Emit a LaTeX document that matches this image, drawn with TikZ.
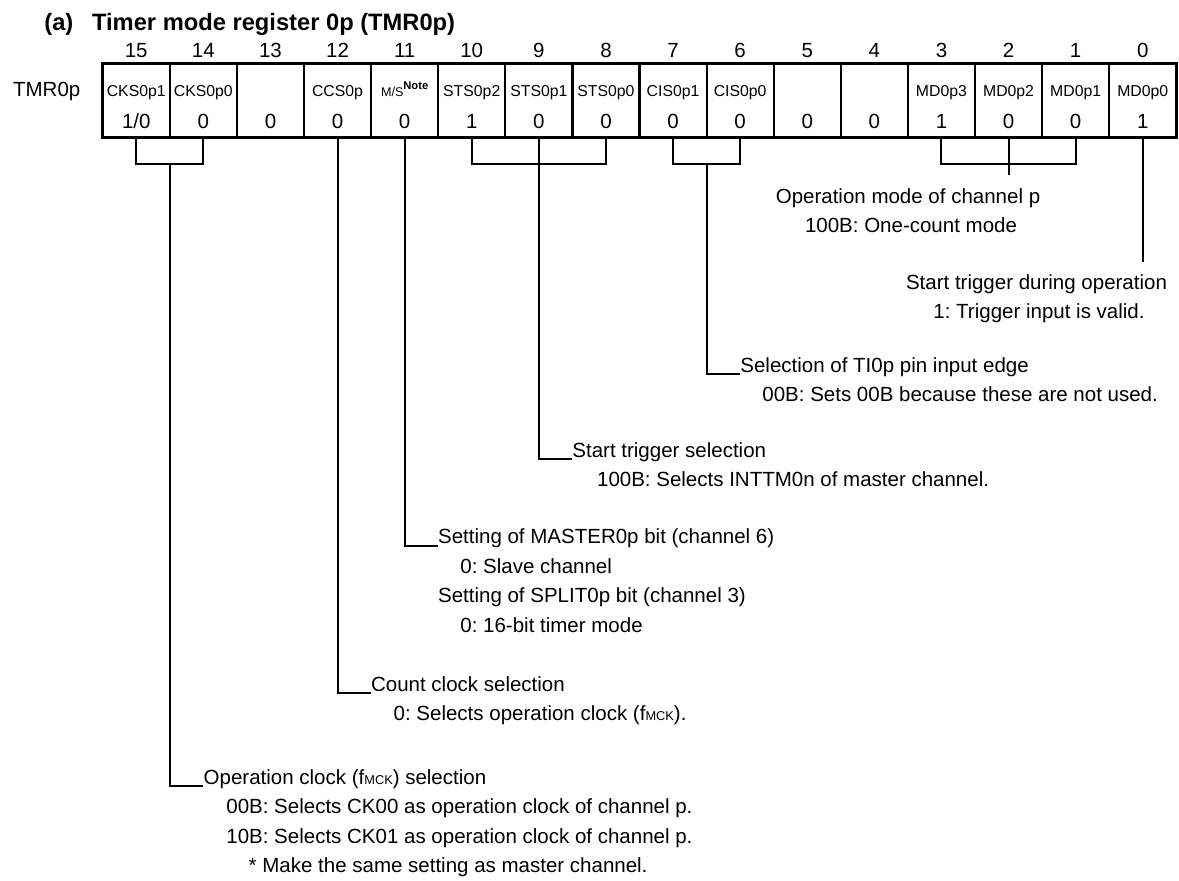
\documentclass[tikz,border=0pt]{standalone}
\usepackage{fontspec}
\setmainfont{Liberation Sans}
\usetikzlibrary{positioning,calc}
\frenchspacing
\newcommand{\msnote}{{\fontsize{6.3}{7}\selectfont M/S}\raisebox{0.45em}{\fontsize{5.6}{6}\selectfont\bfseries Note}}
\newcommand{\fmck}{f{\fontsize{6.4}{7}\selectfont MCK}}

\begin{document}
\begin{tikzpicture}[
  x=0.5pt, y=-0.5pt,
  cell/.style={draw, line width=1.1pt, minimum width=33.55pt,
    minimum height=37.2pt, inner sep=0, outer sep=0, anchor=north west},
  bitno/.style={font=\fontsize{10.25}{12}\selectfont, inner sep=0, anchor=base},
  fld/.style={font=\fontsize{7.9}{9}\selectfont, inner sep=0, anchor=base},
  txt/.style={font=\fontsize{10.25}{12}\selectfont, inner sep=0,
    anchor=base west},
  ctxt/.style={txt, anchor=base},
  wire/.style={line width=1pt}
]
\useasboundingbox (0,0) rectangle (1179,880);

% Title and register name
\node[anchor=base west, inner sep=0,
  font=\fontsize{11.85}{14}\selectfont\bfseries] (tag) at (44,30) {(a)};
\node[anchor=base west, inner sep=0,
  font=\fontsize{11.85}{14}\selectfont\bfseries] (ttl) at (91.7,30)
  {Timer mode register 0p (TMR0p)};
\node[txt] (reg) at (12.7,96.7) {TMR0p};

% Register cells
\foreach \b/\nm/\val [count=\i from 0] in {15/CKS0p1/{1/0}, 14/CKS0p0/0,
    13/{}/0, 12/CCS0p/0, 11/\msnote/0, 10/STS0p2/1, 9/STS0p1/0,
    8/STS0p0/0, 7/CIS0p1/0, 6/CIS0p0/0, 5/{}/0, 4/{}/0, 3/MD0p3/1,
    2/MD0p2/0, 1/MD0p1/0, 0/MD0p0/1} {
  \node[cell] (c\b) at ({102.7+\i*67.1},63.3) {};
  \node[bitno] at (c\b.north |- 0,57.5) {\b};
  \node[fld] at (c\b.north |- 0,96.4) {\nm};
  \node[bitno] at (c\b.north |- 0,128) {\val};
}
\draw[line width=1.4pt] (c15.north west) rectangle (c0.south east);

% Descriptions
\node[ctxt] (opmode) at (908,203) {Operation mode of channel p};
\node[ctxt] (opmodev) at (911,232.5) {100B: One-count mode};
\node[ctxt] (trgop) at (1036.5,289) {Start trigger during operation};
\node[ctxt] (trgopv) at (1039,318.5) {1: Trigger input is valid.};
\node[txt] (edge) at (740,372) {Selection of TI0p pin input edge};
\node[txt] (edgev) at (762,401.5) {00B: Sets 00B because these are not used.};
\node[txt] (stsel) at (572,457) {Start trigger selection};
\node[txt] (stselv) at (596.7,486.5) {100B: Selects INTTM0n of master channel.};
\node[txt] (mst) at (437.7,543.5) {Setting of MASTER0p bit (channel 6)};
\node[txt] (mstv) at (460,573) {0: Slave channel};
\node[txt] (spl) at (437.7,602.5) {Setting of SPLIT0p bit (channel 3)};
\node[txt] (splv) at (460,632) {0: 16-bit timer mode};
\node[txt] (cnt) at (370.7,691) {Count clock selection};
\node[txt] (cntv) at (393.3,720.5) {0: Selects operation clock (\fmck).};
\node[txt] (clk) at (203.3,784) {Operation clock (\fmck) selection};
\node[txt] (clkv) at (226,813.5) {00B: Selects CK00 as operation clock of channel p.};
\node[txt] (clkw) at (226,843) {10B: Selects CK01 as operation clock of channel p.};
\node[txt] (clkn) at (248.3,872.5) {* Make the same setting as master channel.};

% Brackets and leaders
\coordinate (brk) at (0,164.3);
\coordinate (mdend) at (c2.south |- 0,175);
\coordinate (trgend) at (c0.south |- 0,261.7);
\draw[wire] (c15.south) |- (brk -| c14.south) -- (c14.south);
\draw[wire] (c10.south) |- (brk -| c8.south) -- (c8.south);
\draw[wire] (c7.south) |- (brk -| c6.south) -- (c6.south);
\draw[wire] (c3.south) |- (brk -| c1.south) -- (c1.south);
\draw[wire] (c2.south) -- (mdend);
\draw[wire] (c0.south) -- (trgend);
\draw[wire] (c7.south east |- brk) |- ([yshift=-1pt]edge.base west);
\draw[wire] (c9.south) |- ([yshift=-1pt]stsel.base west);
\draw[wire] (c11.south) |- ([yshift=-1pt]mst.base west);
\draw[wire] (c12.south) |- ([yshift=-1pt]cnt.base west);
\draw[wire] (c15.south east |- brk) |- ([yshift=-1pt]clk.base west);

\end{tikzpicture}
\end{document}
